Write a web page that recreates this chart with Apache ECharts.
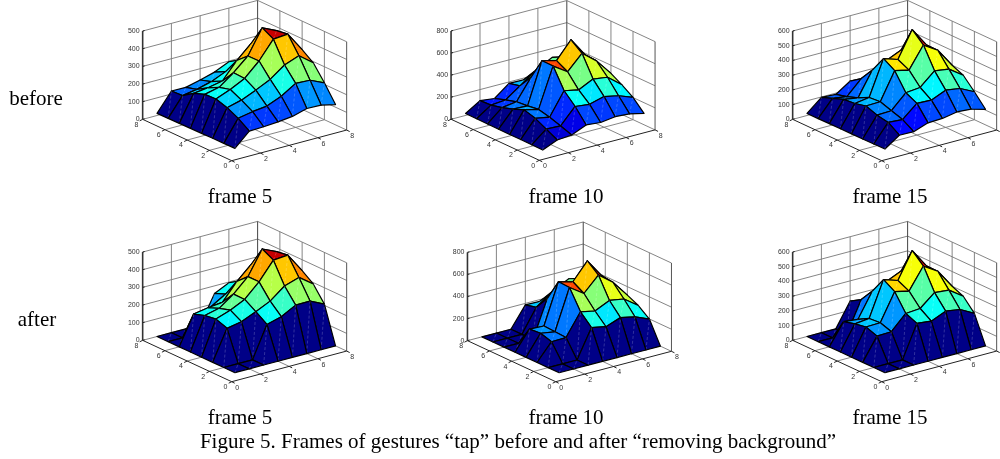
<!DOCTYPE html>
<html><head><meta charset="utf-8">
<style>html,body{margin:0;padding:0;background:#fff}#c{width:1000px;height:459px}</style>
<script src="https://cdn.jsdelivr.net/npm/echarts@6/dist/echarts.min.js"></script>
</head><body><div id="c"></div>
<script>
// Surface heights: rows are y = 1..8, columns are x = 1..8
const before5 = [
 [19,95,98,104,113,136,134,115],
 [18,138,154,164,198,249,245,209],
 [18,169,190,225,264,324,355,293],
 [16,189,221,262,339,441,448,338],
 [15,186,204,265,338,476,438,316],
 [14,162,172,189,283,358,400,270],
 [13,120,134,156,191,235,250,220],
 [12,117,116,136,159,196,190,170]];
const after5 = [
 [0,0,0,0,0,0,0,0],
 [0,0,0,179,201,245,246,207],
 [0,171,187,222,260,324,351,292],
 [0,194,223,262,340,441,448,338],
 [0,185,204,263,340,475,438,316],
 [0,164,178,187,283,358,400,270],
 [0,0,0,134,183,235,250,220],
 [0,0,0,0,157,196,190,170]];
const before10 = [
 [12,69,79,136,124,142,133,103],
 [13,121,115,257,242,278,251,202],
 [14,172,148,353,326,390,372,269],
 [14,202,172,530,444,577,474,326],
 [15,163,157,532,498,653,480,356],
 [16,130,148,335,384,408,480,296],
 [17,106,118,211,305,317,370,260],
 [18,100,85,187,184,254,320,230]];
const after10 = [
 [0,0,0,0,0,0,0,0],
 [0,0,0,260,233,281,254,199],
 [0,154,157,356,329,390,369,275],
 [0,184,163,530,441,574,474,323],
 [0,175,169,535,501,656,486,362],
 [0,0,0,338,384,408,480,296],
 [0,0,0,211,305,317,370,260],
 [0,0,0,187,184,254,320,230]];
const before15 = [
 [18,86,84,118,122,140,133,106],
 [17,138,131,215,211,253,238,190],
 [16,152,156,252,262,349,335,267],
 [16,179,182,367,345,489,428,300],
 [15,161,176,414,382,559,428,321],
 [15,154,138,301,342,385,391,287],
 [14,125,111,208,217,260,300,240],
 [14,97,91,156,141,190,200,180]];
const after15 = [
 [0,0,0,0,0,0,0,0],
 [0,0,0,222,211,253,238,186],
 [0,152,156,254,262,344,335,267],
 [0,179,182,367,345,489,428,300],
 [0,165,176,414,382,559,428,321],
 [0,145,135,301,342,385,391,287],
 [0,0,0,208,217,260,300,240],
 [0,0,0,163,144,190,200,180]];
const xyTicks = [0,2,4,6,8];
const zTicks500 = [0,100,200,300,400,500];
const zTicks600 = [0,100,200,300,400,500,600];
const zTicks800 = [0,200,400,600,800];
const rowLabels = [['before',36,99],['after',37,320]];
const frameLabels = [['frame 5',240,197],['frame 10',566,197],['frame 15',890,197],
                     ['frame 5',240,418],['frame 10',566,418],['frame 15',890,418]];
const captionText = 'Figure 5. Frames of gestures “tap” before and after “removing background”';

const U1={ux:[14.37,-3.83],uy:[-11.13,-5.17]}, U2={ux:[14.47,-3.8],uy:[-11.03,-5.13]};
const panels = [
 {z:before5, zt:zTicks500, o:[231.7,160.7], ...U1},
 {z:before10,zt:zTicks800, o:[539.3,160.3], ...U2},
 {z:before15,zt:zTicks600, o:[881.7,160.7], ...U1},
 {z:after5,  zt:zTicks500, o:[231.7,381.7], ...U1},
 {z:after10, zt:zTicks800, o:[555.7,381.7], ...U2},
 {z:after15, zt:zTicks600, o:[881.7,381.7], ...U1}];
const ZH = 88.3;

function proj(p,x,y,z){
  const zMax = p.zt[p.zt.length-1];
  return [p.o[0]+x*p.ux[0]+y*p.uy[0], p.o[1]+x*p.ux[1]+y*p.uy[1]-z/zMax*ZH];
}
function jet(t){
  t = Math.min(63,Math.floor(t*64))/63;
  t = 0.0078+t*0.9844;
  const c=v=>Math.round(255*Math.max(0,Math.min(1,v)));
  return 'rgb('+c(Math.min(4*t-1.5,-4*t+4.5))+','+c(Math.min(4*t-.5,-4*t+3.5))+','+c(Math.min(4*t+.5,-4*t+2.5))+')';
}
const GRID={stroke:'#777',lineWidth:0.9}, AX={stroke:'#222',lineWidth:1}, ZAX={stroke:'#333',lineWidth:1.6};

function boxSeries(p){
  return {type:'custom',coordinateSystem:'cartesian2d',silent:true,data:[[0,0]],z:2,
    renderItem(params,api){
      const C=(x,y,z)=>api.coord(proj(p,x,y,z));
      const zMax=p.zt[p.zt.length-1];
      const kids=[];
      const L=(a,b,st)=>kids.push({type:'line',shape:{x1:a[0],y1:a[1],x2:b[0],y2:b[1]},style:st});
      const T=(s,q,al)=>kids.push({type:'text',x:q[0],y:q[1],style:{text:s,fontFamily:'Liberation Sans',fontSize:7,fill:'#333',align:al,verticalAlign:'middle'}});
      xyTicks.forEach(t=>{
        if(t>0&&t<8){
          L(C(t,0,0),C(t,8,0),GRID); L(C(0,t,0),C(8,t,0),GRID);
          L(C(t,8,0),C(t,8,zMax),GRID); L(C(8,t,0),C(8,t,zMax),GRID);
        }
      });
      p.zt.forEach(v=>{
        L(C(0,8,v),C(8,8,v),GRID); L(C(8,8,v),C(8,0,v),GRID);
      });
      L(C(8,8,0),C(8,8,zMax),{stroke:'#444',lineWidth:1});
      L(C(8,0,0),C(8,0,zMax),{stroke:'#555',lineWidth:1});
      L(C(0,8,0),C(0,8,zMax),ZAX);
      L(C(0,0,0),C(8,0,0),AX); L(C(0,0,0),C(0,8,0),AX);
      xyTicks.forEach(t=>{
        const a=C(t,0,0), b=C(0,t,0);
        L(a,[a[0]+3,a[1]+1.5],AX); L(b,[b[0]-3,b[1]+1.5],AX);
        T(String(t),[a[0]+5.6,a[1]+6],'center');
        T(String(t),[b[0]-6.2,b[1]+5.4],'center');
      });
      p.zt.forEach(v=>{
        const a=C(0,8,v);
        L(a,[a[0]+2,a[1]-0.5],AX);
        T(String(v),[a[0]-3,a[1]],'right');
      });
      return {type:'group',children:kids};
    }};
}
function surfaceSeries(p){
  let lo=Infinity,hi=-Infinity;
  p.z.forEach(r=>r.forEach(v=>{lo=Math.min(lo,v);hi=Math.max(hi,v);}));
  const cells=[];
  for(let s=12;s>=0;s--) for(let j=0;j<7;j++){const i=s-j; if(i>=0&&i<7) cells.push([i,j]);}
  return {type:'custom',coordinateSystem:'cartesian2d',silent:true,data:cells,z:3,
    renderItem(params,api){
      const i=api.value(0), j=api.value(1);
      const V=(a,b)=>api.coord(proj(p,a+1,b+1,p.z[b][a]));
      const A=V(i,j),B=V(i+1,j),D=V(i+1,j+1),E=V(i,j+1);
      return {type:'group',children:[
        {type:'polygon',shape:{points:[A,B,D,E]},
         style:{fill:jet((p.z[j][i]-lo)/(hi-lo)),stroke:'#000',lineWidth:1.2,lineJoin:'round'}},
        {type:'line',shape:{x1:A[0],y1:A[1],x2:D[0],y2:D[1]},
         style:{stroke:'rgba(255,255,255,0.28)',lineWidth:0.7,lineDash:[3,2]}}
      ]};
    }};
}
const textEl=(s,x,y,size)=>({type:'text',x,y,style:{text:s,fontFamily:'Liberation Serif',fontSize:size,fill:'#000',align:'center',verticalAlign:'middle'}});
const chart=echarts.init(document.getElementById('c'),null,{renderer:'canvas'});
chart.setOption({
  animation:false,
  grid:{left:0,right:0,top:0,bottom:0},
  xAxis:{type:'value',min:0,max:1000,show:false},
  yAxis:{type:'value',min:0,max:459,inverse:true,show:false},
  graphic:[
    ...rowLabels.map(r=>textEl(r[0],r[1],r[2],21)),
    ...frameLabels.map(r=>textEl(r[0],r[1],r[2],21)),
    textEl(captionText,518,442,21)
  ],
  series:panels.flatMap(p=>[boxSeries(p),surfaceSeries(p)])
});
</script></body></html>
